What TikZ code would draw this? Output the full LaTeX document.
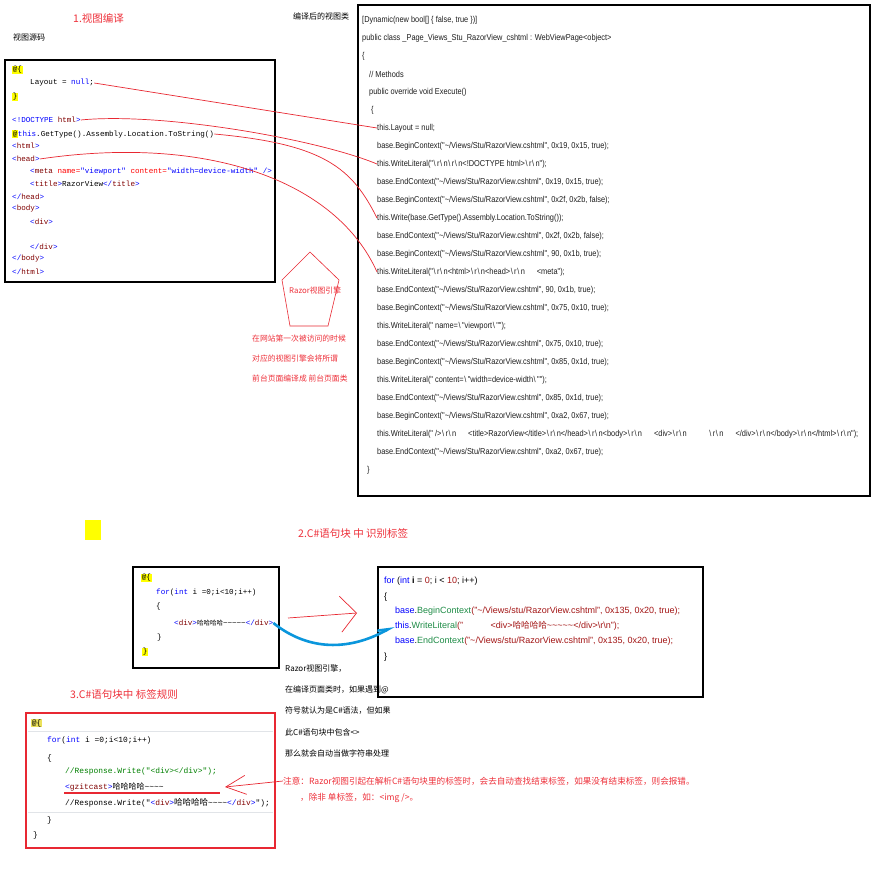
\documentclass[tikz,border=0pt]{standalone}
\usepackage{fontspec}
\setmainfont{Liberation Sans}
\newfontfamily\cjk{Noto Sans CJK SC}
\newfontfamily\monof{Liberation Mono}
\newfontfamily\narrowf[FakeStretch=0.86]{Liberation Sans}
\usetikzlibrary{arrows.meta}
\definecolor{redtxt}{RGB}{238,48,58}
\definecolor{redln}{RGB}{232,40,50}
\definecolor{kwc}{RGB}{0,0,255}
\definecolor{tagc}{RGB}{128,0,0}
\definecolor{attrc}{RGB}{255,0,0}
\definecolor{cmtc}{RGB}{0,128,0}
\definecolor{strc}{RGB}{163,21,21}
\definecolor{methc}{RGB}{30,140,70}
\definecolor{hlc}{RGB}{255,255,0}
\definecolor{hlk}{RGB}{235,225,90}
\definecolor{bluec}{RGB}{10,150,220}
\definecolor{codec}{RGB}{30,30,30}
\definecolor{sepc}{RGB}{225,228,232}
\newcommand\myhl[2][hlc]{{\setlength{\fboxsep}{0.6pt}\colorbox{#1}{#2}}}
\newcommand\mytag[1]{\textcolor{kwc}{<}\textcolor{tagc}{#1}\textcolor{kwc}{>}}
\newcommand\myctag[1]{\textcolor{kwc}{</}\textcolor{tagc}{#1}\textcolor{kwc}{>}}
\newcommand\mytl{\textasciitilde}
\newcommand\mybs{\kern0.6pt\textbackslash\kern1.4pt}
\newcommand\myrn{\mybs r\mybs n}
\newcommand\mygap{\hspace{12pt}}
\newcommand\mypath{"\textasciitilde/Views/Stu/RazorView.cshtml"}
\newcommand\mypathb{"\textasciitilde/Views/stu/RazorView.cshtml"}
\newcommand\myhaha[1]{{\cjk\fontsize{#1}{#1}\selectfont 哈哈哈哈}}
\begin{document}
\begin{tikzpicture}[x=1pt,y=-1pt,
  src/.style={anchor=west,inner sep=0pt,font=\monof\fontsize{7.6}{9}\selectfont},
  cls/.style={anchor=west,inner sep=0pt,font=\narrowf\fontsize{8.6}{9}\selectfont,text=codec},
  ctwo/.style={anchor=west,inner sep=0pt,font=\monof\fontsize{7.6}{9}\selectfont},
  rtwo/.style={anchor=west,inner sep=0pt,font=\fontsize{9}{10}\selectfont},
  cthree/.style={anchor=west,inner sep=0pt,font=\monof\fontsize{7.9}{9}\selectfont},
  zh/.style={anchor=west,inner sep=0pt,font=\cjk\fontsize{8}{9}\selectfont},
  zhred/.style={zh,text=redtxt,font=\cjk\fontsize{7.8}{9}\selectfont},
  ttl/.style={anchor=west,inner sep=0pt,font=\cjk\fontsize{10.5}{12}\selectfont,text=redtxt},
  redline/.style={draw=redln,line width=0.7pt},
  codebox/.style={draw=black,line width=2.5pt}]
\useasboundingbox[fill=white] (0,0) rectangle (886,877);

% ---------- titles ----------
\node[ttl] (t1) at (73,18) {1.视图编译};
\node[zh] (srclbl) at (13,37) {视图源码};
\node[zh] (clslbl) at (293,16) {编译后的视图类};

% ---------- left source box ----------
\draw[codebox] (5,60) rectangle (275,282);
\node[src] (l1) at (12,70) {\myhl{@\{}};
\node[src] (lnull) at (30,83) {Layout = \textcolor{kwc}{null};};
\node[src] (l3) at (12,97) {\myhl{\}}};
\node[src] (ldoc) at (12,120) {\textcolor{kwc}{<!DOCTYPE} \textcolor{tagc}{html}\textcolor{kwc}{>}};
\node[src] (lthis) at (12,134) {\myhl{@}\textcolor{kwc}{this}.GetType().Assembly.Location.ToString()};
\node[src] (lhtml) at (12,146) {\mytag{html}};
\node[src] (lhead) at (12,159) {\mytag{head}};
\node[src] (lmeta) at (30,172) {\textcolor{kwc}{<}\textcolor{tagc}{meta} \textcolor{attrc}{name=}\textcolor{kwc}{"viewport"} \textcolor{attrc}{content=}\textcolor{kwc}{"width=device-width" />}};
\node[src] (ltitle) at (30,184) {\mytag{title}RazorView\myctag{title}};
\node[src] (lhead2) at (12,197) {\myctag{head}};
\node[src] (lbody) at (12,209) {\mytag{body}};
\node[src] (ldiv) at (30,222) {\mytag{div}};
\node[src] (ldiv2) at (30,247) {\myctag{div}};
\node[src] (lbody2) at (12,259) {\myctag{body}};
\node[src] (lhtml2) at (12,272) {\myctag{html}};

% ---------- right compiled class box ----------
\draw[codebox] (358,5) rectangle (870,496);
\node[cls] (r0) at (362,20) {[Dynamic(new bool[] \{ false, true \})]};
\node[cls] (r1) at (362,38) {public class \_Page\_Views\_Stu\_RazorView\_cshtml : WebViewPage<object>};
\node[cls] (r2) at (362,56) {\{};
\node[cls] (r3) at (369,74) {// Methods};
\node[cls] (r4) at (369,92) {public override void Execute()};
\node[cls] (r5) at (371,110) {\{};
\node[cls] (r6) at (377,128) {this.Layout = null;};
\node[cls] (r7) at (377,146) {base.BeginContext(\mypath, 0x19, 0x15, true);};
\node[cls] (r8) at (377,164) {this.WriteLiteral("\myrn\myrn<!DOCTYPE html>\myrn");};
\node[cls] (r9) at (377,182) {base.EndContext(\mypath, 0x19, 0x15, true);};
\node[cls] (r10) at (377,200) {base.BeginContext(\mypath, 0x2f, 0x2b, false);};
\node[cls] (r11) at (377,218) {this.Write(base.GetType().Assembly.Location.ToString());};
\node[cls] (r12) at (377,236) {base.EndContext(\mypath, 0x2f, 0x2b, false);};
\node[cls] (r13) at (377,254) {base.BeginContext(\mypath, 90, 0x1b, true);};
\node[cls] (r14) at (377,272) {this.WriteLiteral("\myrn<html>\myrn<head>\myrn\mygap<meta");};
\node[cls] (r15) at (377,290) {base.EndContext(\mypath, 90, 0x1b, true);};
\node[cls] (r16) at (377,308) {base.BeginContext(\mypath, 0x75, 0x10, true);};
\node[cls] (r17) at (377,326) {this.WriteLiteral(" name=\mybs"viewport\mybs"");};
\node[cls] (r18) at (377,344) {base.EndContext(\mypath, 0x75, 0x10, true);};
\node[cls] (r19) at (377,362) {base.BeginContext(\mypath, 0x85, 0x1d, true);};
\node[cls] (r20) at (377,380) {this.WriteLiteral(" content=\mybs"width=device-width\mybs"");};
\node[cls] (r21) at (377,398) {base.EndContext(\mypath, 0x85, 0x1d, true);};
\node[cls] (r22) at (377,416) {base.BeginContext(\mypath, 0xa2, 0x67, true);};
\node[cls] (r23) at (377,434) {this.WriteLiteral(" />\myrn\mygap<title>RazorView</title>\myrn</head>\myrn<body>\myrn\mygap<div>\myrn\hspace{22pt}\myrn\mygap</div>\myrn</body>\myrn</html>\myrn");};
\node[cls] (r24) at (377,452) {base.EndContext(\mypath, 0xa2, 0x67, true);};
\node[cls] (r25) at (367,470) {\}};

% ---------- red connectors ----------
\draw[redline] (lnull.east) -- (r6.west);
\draw[redline] (ldoc.east) .. controls +(80,-8) and +(-60,-25) .. (r8.west);
\draw[redline] (lthis.east) .. controls +(110,10) and +(-25,-50) .. (r11.west);
\draw[redline] (lhead.east) .. controls +(170,-25) and +(-40,-90) .. (r14.west);

% ---------- pentagon ----------
\draw[draw=redln,line width=0.6pt] (310,252) -- (339,280) -- (328,326) -- (290,326) -- (282,280) -- cycle;
\node[zhred] (pent) at (289,291) {Razor视图引擎};
\node[zhred] (p1) at (252,339) {在网站第一次被访问的时候};
\node[zhred] (p2) at (252,359) {对应的视图引擎会将所谓};
\node[zhred] (p3) at (252,379) {前台页面编译成 前台页面类};

% ---------- section 2 ----------
\fill[hlc] (85,520) rectangle (101,540);
\node[ttl] (t2) at (298,534) {2.C\#语句块 中 识别标签};
\draw[codebox] (133,567) rectangle (279,668);
\node[ctwo] (s1) at (141,578) {\myhl{@\{}};
\node[ctwo] (s2) at (156,593) {\textcolor{kwc}{for}(\textcolor{kwc}{int} i =0;i<10;i++)};
\node[ctwo] (s3) at (156,607) {\{};
\node[ctwo] (sdiv) at (174,623) {\mytag{div}\myhaha{6.5}\mytl\mytl\mytl\mytl\mytl\myctag{div}};
\node[ctwo] (s5) at (157,638) {\}};
\node[ctwo] (s6) at (142,652) {\myhl{\}}};

\draw[codebox] (378,567) rectangle (703,697);
\node[rtwo] (u1) at (384,581) {\textcolor{kwc}{for} (\textcolor{kwc}{int} \textbf{i} = \textcolor{strc}{0}; i < \textcolor{strc}{10}; i++)};
\node[rtwo] (u2) at (384,597) {\{};
\node[rtwo] (u3) at (395,611) {\textcolor{kwc}{base}.\textcolor{methc}{BeginContext}\textcolor{strc}{(\mypathb, 0x135, 0x20, true);}};
\node[rtwo] (ulit) at (395,626) {\textcolor{kwc}{this}.\textcolor{methc}{WriteLiteral}\textcolor{strc}{("\ \ \ \ \ \ \ \ \ \ \ <div>{\cjk\fontsize{8.6}{9}\selectfont 哈哈哈哈}\mytl\mytl\mytl\mytl\mytl</div>\textbackslash r\textbackslash n");}};
\node[rtwo] (u5) at (395,641) {\textcolor{kwc}{base}.\textcolor{methc}{EndContext}\textcolor{strc}{(\mypathb, 0x135, 0x20, true);}};
\node[rtwo] (u6) at (384,657) {\}};

\coordinate (a2s) at (288,618);
\coordinate (a2e) at (357,613);
\draw[redline,-{Straight Barb[length=16pt,width=36pt,line width=0.7pt]}] (a2s) -- (a2e);
\draw[draw=bluec,line width=2.6pt,-{Straight Barb[left,length=10pt,width=8pt]}] (sdiv.east) .. controls +(35,28) and +(-45,25) .. ([xshift=-1pt]ulit.west);

\node[zh] (z1) at (285,669) {Razor视图引擎，};
\node[zh] (z2) at (285,690) {在编译页面类时，如果遇到@};
\node[zh] (z3) at (285,711) {符号就认为是C\#语法，但如果};
\node[zh] (z4) at (285,732) {此C\#语句块中包含<>};
\node[zh] (z5) at (285,753) {那么就会自动当做字符串处理};

% ---------- section 3 ----------
\node[ttl] (t3) at (70,695) {3.C\#语句块中 标签规则};
\draw[draw=sepc,line width=0.6pt] (28,731) -- (273,731);
\draw[draw=sepc,line width=0.6pt] (28,812) -- (273,812);
\draw[draw=redln,line width=2.5pt] (26,713) rectangle (275,848);
\node[cthree] (v1) at (31,723) {\myhl[hlk]{@\{}};
\node[cthree] (v2) at (47,740) {\textcolor{kwc}{for}(\textcolor{kwc}{int} i =0;i<10;i++)};
\node[cthree] (v3) at (47,758) {\{};
\node[cthree] (v4) at (65,771) {\textcolor{cmtc}{//Response.Write("<div></div>");}};
\node[cthree] (vgz) at (65,787) {\mytag{gzitcast}\myhaha{8}\mytl\mytl\mytl\mytl};
\node[cthree] (v6) at (65,803) {//Response.Write("\mytag{div}\myhaha{8.5}\mytl\mytl\mytl\mytl\myctag{div}");};
\node[cthree] (v7) at (47,820) {\}};
\node[cthree] (v8) at (33,835) {\}};
\coordinate (ul1) at (64,793);
\coordinate (ul2) at (220,793);
\draw[draw=redln,line width=1.8pt] (ul1) -- (ul2);

\node[zh,text=redtxt,font=\cjk\fontsize{8.6}{10}\selectfont] (note1) at (283,781) {注意：Razor视图引起在解析C\#语句块里的标签时，会去自动查找结束标签，如果没有结束标签，则会报错。};
\node[zh,text=redtxt,font=\cjk\fontsize{8.6}{10}\selectfont] (note2) at (300,798) {，除非 单标签，如：<img />。};
\coordinate (tip3) at (225,787);
\draw[redline,-{Straight Barb[length=20pt,width=19pt,line width=0.7pt]}] (note1.west) -- (tip3);
\end{tikzpicture}
\end{document}
